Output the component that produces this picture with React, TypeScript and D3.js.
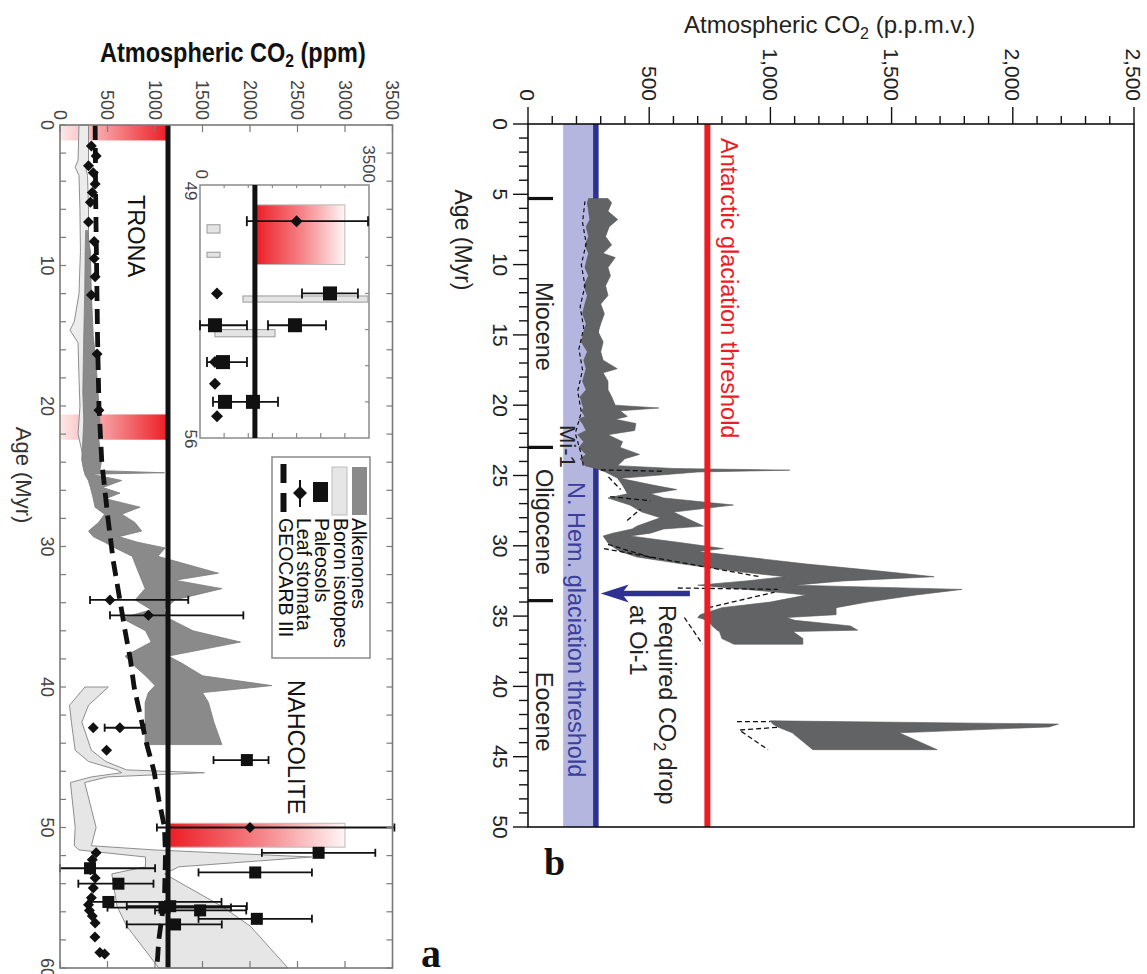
import React from "react";
import * as d3 from "d3";

const SANS = "'Liberation Sans', Arial, Helvetica, sans-serif";
const SERIF = "'Liberation Serif', 'Times New Roman', serif";

// ================= Panel a data =================
const aCo2Ticks = [0, 500, 1000, 1500, 2000, 2500, 3000, 3500];
const aAgeLabels = [0, 10, 20, 30, 40, 50, 60];
const aAgeMinor = d3.range(0, 61, 2);
const aThreshold = 1137;

const redBandAgeLo = [0, 20.6];
const redBandAgeHi = [1.1, 22.4];
const warmBandAgeLo = [49.7];
const warmBandAgeHi = [51.4];
const warmBandCo2Hi = [3000];

const boronYoungAge = [0, 2.5, 3.0, 3.6, 6, 9, 12, 14.0, 14.6, 15.5, 18, 20, 22, 23.5, 24.2];
const boronYoungLo = [200, 190, 160, 200, 210, 215, 200, 150, 105, 190, 200, 210, 190, 240, 260];
const boronYoungHi = [300, 300, 270, 290, 300, 300, 290, 280, 270, 290, 300, 320, 350, 330, 300];

const boronOldAge = [40.0, 41.3, 42.5, 44.5, 45.3, 45.9, 46.1, 46.4, 46.8, 50.0, 51.3, 51.6, 52.1, 52.8, 53.3, 55.6, 57.0, 60.0];
const boronOldLo = [263, 100, 120, 160, 300, 600, 650, 330, 110, 160, 150, 200, 900, 900, 545, 600, 700, 1040];
const boronOldHi = [509, 300, 230, 330, 480, 700, 1520, 500, 260, 380, 330, 1000, 2650, 1250, 1100, 1700, 2000, 2400];

const alkAge = [7.5, 9, 12, 15, 17, 19, 21, 22.5, 23.8, 24.6, 24.75, 24.85, 25.3, 25.8, 26.2, 26.6, 27.2, 27.7, 28.3, 28.9, 29.3, 29.7, 30.1, 30.7, 31.9, 32.4, 33.0, 33.8, 34.5, 35.1, 36.0, 36.8, 37.8, 38.3, 39.2, 39.9, 40.4, 41.1, 42.5, 44.1];
const alkLo = [270, 265, 260, 250, 245, 240, 250, 240, 228, 250, 260, 260, 298, 320, 335, 350, 369, 470, 404, 300, 350, 470, 580, 760, 830, 860, 896, 790, 960, 650, 900, 960, 685, 750, 900, 1000, 930, 896, 896, 896];
const alkHi = [290, 320, 330, 350, 380, 400, 420, 410, 439, 420, 1100, 330, 650, 450, 632, 480, 843, 650, 790, 860, 620, 820, 1107, 1030, 1668, 1210, 1704, 1210, 1100, 1140, 1400, 1900, 1140, 1280, 1500, 2230, 1500, 1563, 1620, 1704];

const geoAge = [0, 5, 10, 15, 20, 24, 28, 31, 33, 36, 38, 40, 42, 44, 46, 48, 50, 52, 55, 58, 60];
const geoCo2 = [370, 375, 385, 395, 410, 440, 505, 560, 610, 685, 740, 780, 845, 910, 990, 1040, 1100, 1110, 1100, 1040, 1020];

const stomAge = [1.5, 2.2, 2.9, 3.4, 4.2, 4.8, 5.5, 6.9, 8.3, 9.5, 10.8, 12.1, 16.3, 20.3, 42.9, 44.5, 51.8, 52.3, 53.0, 53.6, 54.3, 55.0, 55.5, 55.9, 56.3, 56.8, 57.8, 58.9, 59.0];
const stomCo2 = [330, 380, 300, 350, 370, 340, 320, 300, 360, 360, 370, 330, 390, 410, 350, 490, 380, 340, 320, 370, 350, 330, 300, 310, 340, 370, 368, 420, 470];

const stomErrAge = [33.8, 34.9, 42.9, 50.0];
const stomErrCo2 = [526, 930, 630, 2000];
const stomErrLo = [316, 526, 470, 1020];
const stomErrHi = [1350, 1930, 890, 3520];

const paleoAge = [45.2, 51.8, 52.9, 53.2, 54.0, 55.3, 55.6, 55.7, 55.9, 56.5, 56.9];
const paleoCo2 = [1967, 2722, 316, 2055, 615, 509, 1160, 1100, 1475, 2072, 1211];
const paleoLo = [1616, 2125, 0, 1458, 193, 300, 703, 500, 1000, 1458, 703];
const paleoHi = [2195, 3319, 1001, 2652, 984, 1700, 1967, 1800, 1960, 2652, 1703];

// inset (49-56 Myr)
const insetWarmAge = [49.55, 51.2];
const insetBoronAgeLo = [50.1, 50.86, 52.07, 53.0];
const insetBoronAgeHi = [50.33, 51.0, 52.24, 53.2];
const insetBoronCo2Lo = [145, 145, 890, 310];
const insetBoronCo2Hi = [414, 414, 3478, 1553];
const insetSqAge = [52.0, 52.88, 52.88, 53.9, 55.0, 55.0];
const insetSqCo2 = [2692, 310, 1967, 476, 518, 1097];
const insetSqLo = [2112, 0, 1408, 145, 269, 1097];
const insetSqHi = [3271, 973, 2609, 973, 1615, 1097];
const insetDiaAge = [50.0, 52.0, 53.9, 54.5, 55.4];
const insetDiaCo2 = [2000, 352, 310, 310, 352];
const insetDiaLo = [970, 352, 310, 310, 352];
const insetDiaHi = [3480, 352, 310, 310, 352];

const legendNames = ["Alkenones", "Boron isotopes", "Paleosols", "Leaf stomata", "GEOCARB III"];

// ================= Panel b data =================
const bCo2Major = [0, 500, 1000, 1500, 2000, 2500];
const bCo2Labels = ["0", "500", "1,000", "1,500", "2,000", "2,500"];
const bCo2Minor = d3.range(0, 2501, 100);
const bAgeMajor = [0, 5, 10, 15, 20, 25, 30, 35, 40, 45, 50];
const bAgeMinor = d3.range(0, 51, 1);
const antarcticThreshold = 740;
const nhemThreshold = 280;
const nhemShadeLo = 145;
const epochBounds = [5.3, 23.0, 33.9];
const epochNames = ["Miocene", "Oligocene", "Eocene"];
const epochMid = [14.4, 28.3, 41.8];
const oi1Age = 33.4;
const oi1From = 668;
const oi1To = 300;

const bandAge = [5.3, 5.6, 6.2, 6.8, 7.3, 8.0, 8.6, 9.2, 9.5, 10.2, 10.8, 11.5, 12.2, 12.8, 13.5, 14.2, 14.8, 15.5, 16.2, 16.8, 17.4, 17.7, 18.3, 18.9, 19.4, 20.0, 20.2, 20.4, 20.8, 21.0, 21.3, 21.8, 22.1, 22.6, 23.0, 23.5, 23.8, 24.3, 24.5, 24.62, 24.75, 25.2, 25.7, 26.0, 26.3, 26.6, 27.1, 27.6, 28.0, 28.6, 28.8, 29.1, 29.3, 29.8, 30.2, 30.4, 30.8, 31.3, 31.8, 32.2, 32.5, 32.8, 33.1, 33.5, 34.0, 34.4, 34.9, 35.1, 35.3, 35.7, 36.0, 36.1, 36.6, 37.0];
const bandLo = [250, 245, 250, 255, 240, 250, 235, 250, 245, 235, 250, 230, 245, 235, 225, 240, 230, 220, 245, 230, 240, 235, 225, 240, 215, 225, 230, 220, 235, 210, 225, 240, 205, 230, 210, 240, 215, 235, 280, 300, 320, 370, 390, 400, 410, 330, 420, 470, 546, 450, 430, 350, 310, 330, 360, 380, 450, 640, 850, 1060, 900, 700, 900, 1150, 1000, 800, 710, 700, 740, 760, 780, 790, 800, 850];
const bandHi = [330, 345, 330, 370, 335, 320, 345, 310, 360, 330, 340, 320, 330, 300, 315, 300, 290, 310, 300, 310, 368, 310, 330, 330, 345, 360, 540, 380, 410, 360, 445, 440, 330, 390, 380, 460, 400, 370, 600, 1080, 700, 380, 520, 614, 505, 560, 847, 600, 650, 724, 560, 505, 420, 640, 806, 700, 900, 1150, 1450, 1675, 1300, 1100, 1790, 1600, 1400, 1271, 1271, 1066, 1100, 1330, 1360, 1093, 1134, 1134];

const band2Age = [42.45, 42.68, 42.88, 43.3, 44.5];
const band2Lo = [998, 1010, 1030, 1090, 1175];
const band2Hi = [1005, 2188, 2150, 1531, 1688];

const lowDashAge = [5.5, 7, 8.5, 10, 11.5, 13, 14.5, 16, 17.5, 19, 20.5, 22, 23.5, 24.5];
const lowDashCo2 = [235, 225, 240, 220, 235, 215, 230, 210, 225, 205, 220, 195, 220, 230];

// dashed estimate segments: [age1, co2_1] -> [age2, co2_2]
const dashSegAge1 = [25.1, 26.5, 28.2, 30.2, 33.0, 34.4, 35.1, 24.6, 29.9, 42.5, 43.1, 43.2];
const dashSegCo21 = [332, 339, 409, 313, 618, 744, 645, 300, 330, 862, 875, 880];
const dashSegAge2 = [26.0, 26.8, 27.4, 32.2, 33.1, 33.3, 37.0, 24.7, 30.9, 42.5, 42.9, 44.5];
const dashSegCo22 = [382, 505, 464, 957, 1030, 1017, 720, 560, 520, 998, 1038, 990];

// ================= scales =================
const xA = d3.scaleLinear().domain([0, 3500]).range([60, 392.5]);
const yA = d3.scaleLinear().domain([0, 60]).range([125, 968]);
const xI = d3.scaleLinear().domain([0, 3500]).range([200, 369]);
const yI = d3.scaleLinear().domain([49, 56]).range([185, 438]);
const xB = d3.scaleLinear().domain([0, 2500]).range([528, 1134]);
const yB = d3.scaleLinear().domain([0, 50]).range([124, 827]);

type Row = { age: number; lo: number; hi: number };
const zip = (ages: number[], lo: number[], hi: number[]): Row[] =>
  ages.map((a, i) => ({ age: a, lo: lo[i], hi: hi[i] }));
const areaPath = (x: any, y: any, rows: Row[]) =>
  d3.area<Row>().y((d) => y(d.age)).x0((d) => x(d.lo)).x1((d) => x(d.hi))(rows) || "";
const linePath = (x: any, y: any, ages: number[], vals: number[]) =>
  d3.line<number>().x((_, i) => x(vals[i])).y((d) => y(d))(ages) || "";

const diamond = (cx: number, cy: number, r: number) =>
  `M${cx},${cy - r}L${cx + r},${cy}L${cx},${cy + r}L${cx - r},${cy}Z`;

function VText(props: any) {
  const { x, y, anchor = "start", size = 20, fill = "#111", weight = "normal", center = false, children, family = SANS } = props;
  return (
    <text
      transform={`translate(${x},${y}) rotate(90)`}
      textAnchor={anchor}
      fontSize={size}
      fill={fill}
      fontWeight={weight}
      fontFamily={family}
      dy={center ? "0.36em" : undefined}
    >
      {children}
    </text>
  );
}

function ErrBar({ x, y, lo, hi, cap = 4, w = 1.8 }: any) {
  return (
    <g stroke="#111" strokeWidth={w}>
      <line x1={x(lo)} x2={x(hi)} y1={y} y2={y} />
      <line x1={x(lo)} x2={x(lo)} y1={y - cap} y2={y + cap} />
      <line x1={x(hi)} x2={x(hi)} y1={y - cap} y2={y + cap} />
    </g>
  );
}

function PanelA() {
  const grey = "#8a8a8a";
  const left = xA(0), right = xA(3500), top = yA(0), bottom = yA(60);
  const boronYoung = zip(boronYoungAge, boronYoungLo, boronYoungHi);
  const boronOld = zip(boronOldAge, boronOldLo, boronOldHi);
  const alk = zip(alkAge, alkLo, alkHi);
  return (
    <g>
      {/* title */}
      <text transform="translate(100,62) scale(0.87,1)" fontSize={27} fontWeight="bold" fontFamily={SANS} fill="#111">
        Atmospheric CO<tspan fontSize={18} dy={5}>2</tspan><tspan dy={-5}> (ppm)</tspan>
      </text>
      {/* CO2 tick labels */}
      {aCo2Ticks.map((t) => (
        <VText key={"al" + t} x={xA(t)} y={120} anchor="end" size={18} fill="#444" center>
          {t}
        </VText>
      ))}
      {/* age labels */}
      {aAgeLabels.map((t) => (
        <VText key={"ag" + t} x={47} y={yA(t)} anchor="middle" size={18} fill="#444" center>
          {t}
        </VText>
      ))}
      <VText x={16} y={475} anchor="middle" size={22} fill="#333">Age (Myr)</VText>

      {/* red bands */}
      {redBandAgeLo.map((a, i) => (
        <rect key={"rb" + i} x={xA(0)} y={yA(a)} width={xA(aThreshold) - xA(0)} height={yA(redBandAgeHi[i]) - yA(a)} fill="url(#gradLR)" />
      ))}
      {warmBandAgeLo.map((a, i) => (
        <rect key={"wb" + i} x={xA(aThreshold)} y={yA(a)} width={xA(warmBandCo2Hi[i]) - xA(aThreshold)} height={yA(warmBandAgeHi[i]) - yA(a)} fill="url(#gradRL)" stroke="#bbb" strokeWidth={1} />
      ))}

      {/* boron */}
      <path d={areaPath(xA, yA, boronYoung)} fill="#ececec" stroke="#8e8e8e" strokeWidth={1} />
      <path d={areaPath(xA, yA, boronOld)} fill="#e6e6e6" stroke="#8e8e8e" strokeWidth={1} />
      {/* alkenones */}
      <path d={areaPath(xA, yA, alk)} fill={grey} stroke="#7c7c7c" strokeWidth={0.8} />

      {/* threshold */}
      <line x1={xA(aThreshold)} x2={xA(aThreshold)} y1={top} y2={bottom} stroke="#111" strokeWidth={5} />
      {/* GEOCARB */}
      <path d={linePath(xA, yA, geoAge, geoCo2)} fill="none" stroke="#111" strokeWidth={4.8} strokeDasharray="15 8" />

      {/* stomata with error bars */}
      {stomErrAge.map((a, i) => (
        <g key={"se" + i}>
          <ErrBar x={xA} y={yA(a)} lo={stomErrLo[i]} hi={stomErrHi[i]} />
          <path d={diamond(xA(stomErrCo2[i]), yA(a), 5.5)} fill="#111" />
        </g>
      ))}
      {stomAge.map((a, i) => (
        <path key={"st" + i} d={diamond(xA(stomCo2[i]), yA(a), 5.5)} fill="#111" />
      ))}
      {/* paleosols */}
      {paleoAge.map((a, i) => (
        <g key={"pa" + i}>
          <ErrBar x={xA} y={yA(a)} lo={paleoLo[i]} hi={paleoHi[i]} />
          <rect x={xA(paleoCo2[i]) - 6} y={yA(a) - 6} width={12} height={12} fill="#111" />
        </g>
      ))}

      {/* frame */}
      <rect x={left} y={top} width={right - left} height={bottom - top} fill="none" stroke="#7a7a7a" strokeWidth={1.6} />
      {aCo2Ticks.map((t) => (
        <g key={"tk" + t} stroke="#7a7a7a" strokeWidth={1.2}>
          <line x1={xA(t)} x2={xA(t)} y1={top} y2={top + 7} />
          <line x1={xA(t)} x2={xA(t)} y1={bottom} y2={bottom - 7} />
        </g>
      ))}
      {aAgeMinor.map((t) => (
        <g key={"tm" + t} stroke="#7a7a7a" strokeWidth={1.2}>
          <line x1={left} x2={left + 6} y1={yA(t)} y2={yA(t)} />
          <line x1={right} x2={right - 6} y1={yA(t)} y2={yA(t)} />
        </g>
      ))}

      {/* deposit labels */}
      <VText x={128} y={195} size={23.5} fill="#111">TRONA</VText>
      <VText x={288} y={680} size={23.5} fill="#111">NAHCOLITE</VText>

      {/* inset */}
      <Inset />

      {/* legend */}
      <rect x={272} y={457} width={98} height={201} fill="#fff" stroke="#8a8a8a" strokeWidth={1.5} />
      <rect x={352} y={467} width={15} height={48} fill={grey} />
      <rect x={332} y={467} width={15} height={48} fill="#e6e6e6" stroke="#bbb" strokeWidth={1} />
      <rect x={313} y={482} width={15} height={20} fill="#111" />
      <line x1={300} x2={300} y1={480} y2={507} stroke="#111" strokeWidth={2} />
      <path d={diamond(300, 493, 7)} fill="#111" />
      <line x1={283.5} x2={283.5} y1={464} y2={514} stroke="#111" strokeWidth={6} strokeDasharray="19 10" />
      {legendNames.map((n, i) => (
        <VText key={n} x={352 - i * 18.3} y={518} size={19.5} fill="#111">{n}</VText>
      ))}

      <text x={421} y={967} fontFamily={SERIF} fontWeight="bold" fontSize={40} fill="#111">a</text>
    </g>
  );
}

function Inset() {
  const l = xI(0), r = xI(3500), t = yI(49), b = yI(56);
  return (
    <g>
      <rect x={l} y={t} width={r - l} height={b - t} fill="#fff" stroke="#8a8a8a" strokeWidth={1.5} />
      {d3.range(500, 3500, 500).map((v) => (
        <g key={"it" + v} stroke="#8a8a8a" strokeWidth={1.2}>
          <line x1={xI(v)} x2={xI(v)} y1={t} y2={t + 3} />
          <line x1={xI(v)} x2={xI(v)} y1={b} y2={b - 5} />
        </g>
      ))}
      {d3.range(50, 56, 1).map((v) => (
        <line key={"iy" + v} x1={r} x2={r - 4} y1={yI(v)} y2={yI(v)} stroke="#8a8a8a" strokeWidth={1.2} />
      ))}
      <rect x={xI(aThreshold)} y={yI(insetWarmAge[0])} width={xI(3000) - xI(aThreshold)} height={yI(insetWarmAge[1]) - yI(insetWarmAge[0])} fill="url(#gradRL)" stroke="#bbb" strokeWidth={1} />
      {insetBoronAgeLo.map((a, i) => (
        <rect key={"ib" + i} x={xI(insetBoronCo2Lo[i])} y={yI(a)} width={xI(insetBoronCo2Hi[i]) - xI(insetBoronCo2Lo[i])} height={yI(insetBoronAgeHi[i]) - yI(a)} fill="#e4e4e4" stroke="#999" strokeWidth={1} />
      ))}
      <line x1={xI(aThreshold)} x2={xI(aThreshold)} y1={t} y2={b} stroke="#111" strokeWidth={5} />
      {insetSqAge.map((a, i) => (
        <g key={"is" + i}>
          {insetSqLo[i] !== insetSqHi[i] && <ErrBar x={xI} y={yI(a)} lo={insetSqLo[i]} hi={insetSqHi[i]} cap={5} />}
          <rect x={xI(insetSqCo2[i]) - 7} y={yI(a) - 7} width={14} height={14} fill="#111" />
        </g>
      ))}
      {insetDiaAge.map((a, i) => (
        <g key={"id" + i}>
          {insetDiaLo[i] !== insetDiaHi[i] && <ErrBar x={xI} y={yI(a)} lo={insetDiaLo[i]} hi={insetDiaHi[i]} cap={5} />}
          <path d={diamond(xI(insetDiaCo2[i]), yI(a), 6)} fill="#111" />
        </g>
      ))}
      <VText x={xI(0) + 2} y={t - 6} anchor="end" size={17} fill="#444" center>0</VText>
      <VText x={xI(3500)} y={t - 2} anchor="end" size={17} fill="#444" center>3500</VText>
      <VText x={191} y={t + 6} anchor="middle" size={17} fill="#444" center>49</VText>
      <VText x={191} y={b + 1} anchor="middle" size={17} fill="#444" center>56</VText>
    </g>
  );
}

function PanelB() {
  const left = xB(0), right = xB(2500), top = yB(0), bottom = yB(50);
  const band = zip(bandAge, bandLo, bandHi);
  const band2 = zip(band2Age, band2Lo, band2Hi);
  const blue = "#2e3192";
  const red = "#ed1c24";
  return (
    <g>
      <text x={684} y={33} fontSize={24} fontFamily={SANS} fill="#222">
        Atmospheric CO<tspan fontSize={16} dy={6}>2</tspan><tspan dy={-6}> (p.p.m.v.)</tspan>
      </text>
      {bCo2Major.map((t, i) => (
        <VText key={"bl" + t} x={xB(t)} y={101} anchor="end" size={21} fill="#222" center>
          {bCo2Labels[i]}
        </VText>
      ))}
      {bAgeMajor.map((t) => (
        <VText key={"ba" + t} x={501} y={yB(t)} anchor="middle" size={21} fill="#222" center>
          {t}
        </VText>
      ))}
      <VText x={455} y={240} anchor="middle" size={23} fill="#222">Age (Myr)</VText>

      {/* thresholds */}
      <rect x={xB(nhemShadeLo)} y={top} width={xB(nhemThreshold) - xB(nhemShadeLo)} height={bottom - top} fill="#b4b6e0" />
      <line x1={xB(nhemThreshold)} x2={xB(nhemThreshold)} y1={top} y2={bottom} stroke={blue} strokeWidth={5.5} />

      {/* data */}
      <path d={areaPath(xB, yB, band)} fill="#626364" stroke="#555" strokeWidth={0.6} />
      <path d={areaPath(xB, yB, band2)} fill="#626364" stroke="#555" strokeWidth={0.6} />
      <path d={linePath(xB, yB, lowDashAge, lowDashCo2)} fill="none" stroke="#111" strokeWidth={1.2} strokeDasharray="4 3" />
      {dashSegAge1.map((a, i) => (
        <line key={"ds" + i} x1={xB(dashSegCo21[i])} y1={yB(a)} x2={xB(dashSegCo22[i])} y2={yB(dashSegAge2[i])} stroke="#111" strokeWidth={1.3} strokeDasharray="5 3" />
      ))}

      <line x1={xB(antarcticThreshold)} x2={xB(antarcticThreshold)} y1={top} y2={bottom} stroke={red} strokeWidth={6} />

      {/* arrow */}
      <line x1={xB(oi1From)} x2={xB(oi1To) + 20} y1={yB(oi1Age)} y2={yB(oi1Age)} stroke={blue} strokeWidth={5.5} />
      <path d={`M${xB(oi1To)},${yB(oi1Age)}L${xB(oi1To) + 28},${yB(oi1Age) - 9}L${xB(oi1To) + 21},${yB(oi1Age)}L${xB(oi1To) + 28},${yB(oi1Age) + 9}Z`} fill={blue} />

      {/* frame */}
      <rect x={left} y={top} width={right - left} height={bottom - top} fill="none" stroke="#111" strokeWidth={1.6} />
      {bCo2Minor.map((t) => (
        <line key={"cm" + t} x1={xB(t)} x2={xB(t)} y1={top} y2={top - (t % 500 === 0 ? 17 : 8)} stroke="#111" strokeWidth={1.4} />
      ))}
      {bAgeMinor.map((t) => (
        <line key={"am" + t} x1={left} x2={left - (t % 5 === 0 ? 15 : 9)} y1={yB(t)} y2={yB(t)} stroke="#111" strokeWidth={1.4} />
      ))}
      {epochBounds.map((t) => (
        <line key={"eb" + t} x1={left} x2={left + 25} y1={yB(t)} y2={yB(t)} stroke="#111" strokeWidth={3.2} />
      ))}
      {epochNames.map((n, i) => (
        <VText key={n} x={536} y={yB(epochMid[i])} anchor="middle" size={23.5} fill="#222">{n}</VText>
      ))}
      <VText x={560} y={425} size={22} fill="#222">Mi-1</VText>

      <VText x={721} y={138} size={23.5} fill={red}>Antarctic glaciation threshold</VText>
      <VText x={568} y={482} size={23.5} fill="#3a3f9e">N. Hem. glaciation threshold</VText>
      <text transform={`translate(659,605) rotate(90)`} fontSize={23.5} fontFamily={SANS} fill="#222">
        Required CO<tspan fontSize={16} dy={5}>2</tspan><tspan dy={-5}> drop</tspan>
      </text>
      <VText x={630} y={605} size={23.5} fill="#222">at Oi-1</VText>

      <text x={544} y={875} fontFamily={SERIF} fontWeight="bold" fontSize={38} fill="#111">b</text>
    </g>
  );
}

export default function App() {
  return (
    <svg width={1147} height={974} style={{ position: "absolute", left: 0, top: 0, display: "block", background: "#fff" }}>
      <defs>
        <linearGradient id="gradLR" x1="0" x2="1" y1="0" y2="0">
          <stop offset="0" stopColor="#fde9e9" />
          <stop offset="0.3" stopColor="#f8b4b6" />
          <stop offset="1" stopColor="#ec1c24" />
        </linearGradient>
        <linearGradient id="gradRL" x1="0" x2="1" y1="0" y2="0">
          <stop offset="0" stopColor="#ec1c24" />
          <stop offset="0.55" stopColor="#f5898d" />
          <stop offset="1" stopColor="#fff6f6" />
        </linearGradient>
      </defs>
      <rect x={0} y={0} width={1147} height={974} fill="#fff" />
      <PanelA />
      <PanelB />
    </svg>
  );
}
